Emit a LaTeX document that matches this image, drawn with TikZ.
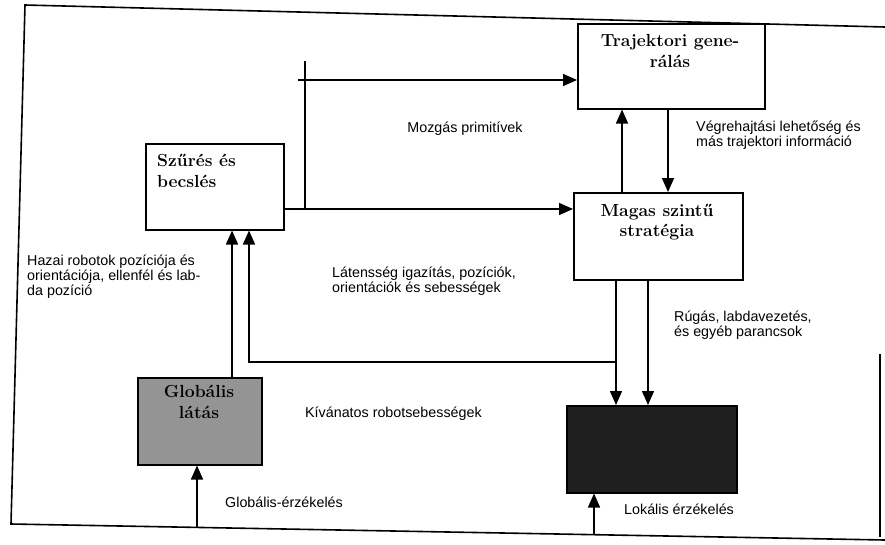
\documentclass[tikz,border=0pt]{standalone}
\usepackage{fontspec}
\setsansfont{Liberation Sans}
\usetikzlibrary{arrows.meta}
\tikzset{
  box/.style={draw,line width=1.5pt,inner sep=0pt,anchor=north west},
  boxtext/.style={font=\fontsize{17.5}{20.5}\selectfont\bfseries,align=center,inner sep=0pt},
  lbl/.style={font=\sffamily\fontsize{14.3}{15}\selectfont,align=left,inner sep=0pt,anchor=west},
  conn/.style={line width=1.5pt},
  arr/.style={line width=1.5pt,-{Triangle[length=14pt,width=12pt]}},
  frame/.style={line width=1.6pt}
}
\begin{document}
\begin{tikzpicture}[x=1pt,y=-1pt]
\useasboundingbox (0,0) rectangle (885,544);
% frame
\coordinate (ftr) at (885,27);
\coordinate (ftl) at (25,5);
\coordinate (fbl) at (11,524);
\coordinate (fbr) at (885,540);
\coordinate (frt) at (880,354);
\coordinate (frb) at (880,537);
\draw[frame] (ftr) -- (ftl) -- (fbl) -- (fbr);
\draw[frame] (frt) -- (frb);
% boxes
\node[box,minimum width=187pt,minimum height=85pt] (traj) at (577,23) {};
\node[box,minimum width=138pt,minimum height=86pt] (szures) at (145,143) {};
\node[box,minimum width=169pt,minimum height=87pt] (magas) at (573,192) {};
\node[box,minimum width=124pt,minimum height=87pt,fill=black!42] (glob) at (137,377) {};
\node[box,minimum width=170pt,minimum height=87pt,fill=black!88] (lok) at (566,405) {};
% box texts
\node[boxtext] (trajT) at (670,51) {Trajektori gene-\\rálás};
\node[boxtext,align=left,anchor=west] (szuresT) at (157,171) {Szűrés és\\becslés};
\node[boxtext] (magasT) at (657,222) {Magas szintű\\stratégia};
\node[boxtext] (globT) at (199,402) {Globális\\látás};
% helper coordinates
\coordinate (y209) at (0,209);
\coordinate (mtop) at (305,61);
\coordinate (mjoin) at (305,209);
\coordinate (mleft) at (298,80);
\coordinate (x622) at (622,0);
\coordinate (x668) at (668,0);
\coordinate (x616) at (616,0);
\coordinate (x648) at (648,0);
\coordinate (x232) at (232,0);
\coordinate (x249) at (249,0);
\coordinate (fb) at (616,362);
\coordinate (gsrc) at (197,527);
\coordinate (lsrc) at (594,535);
% connectors
\draw[arr] (szures.east |- y209) -- (magas.west |- y209);
\draw[conn] (mtop) -- (mjoin);
\draw[arr] (mleft) -- (traj.west |- mleft);
\draw[arr] (magas.north -| x622) -- (traj.south -| x622);
\draw[arr] (traj.south -| x668) -- (magas.north -| x668);
\draw[arr] (magas.south -| x616) -- (lok.north -| x616);
\draw[arr] (magas.south -| x648) -- (lok.north -| x648);
\draw[arr] (fb) -| (szures.south -| x249);
\draw[arr] (glob.north -| x232) -- (szures.south -| x232);
\draw[arr] (gsrc) -- (glob.south -| gsrc);
\draw[arr] (lsrc) -- (lok.south -| lsrc);
% labels
\node[lbl,anchor=center] (lmozg) at (465,129) {Mozgás primitívek};
\node[lbl] (lvegr) at (696,135) {Végrehajtási lehetőség és\\más trajektori információ};
\node[lbl] (lhazai) at (27,277) {Hazai robotok pozíciója és\\orientációja, ellenfél és lab-\\da pozíció};
\node[lbl] (llat) at (332,281) {Látensség igazítás, pozíciók,\\orientációk és sebességek};
\node[lbl] (lrug) at (674,325) {Rúgás, labdavezetés,\\és egyéb parancsok};
\node[lbl] (lkiv) at (305,414) {Kívánatos robotsebességek};
\node[lbl] (lglob) at (225,502) {Globális-érzékelés};
\node[lbl] (llok) at (624,509) {Lokális érzékelés};
\end{tikzpicture}
\end{document}
